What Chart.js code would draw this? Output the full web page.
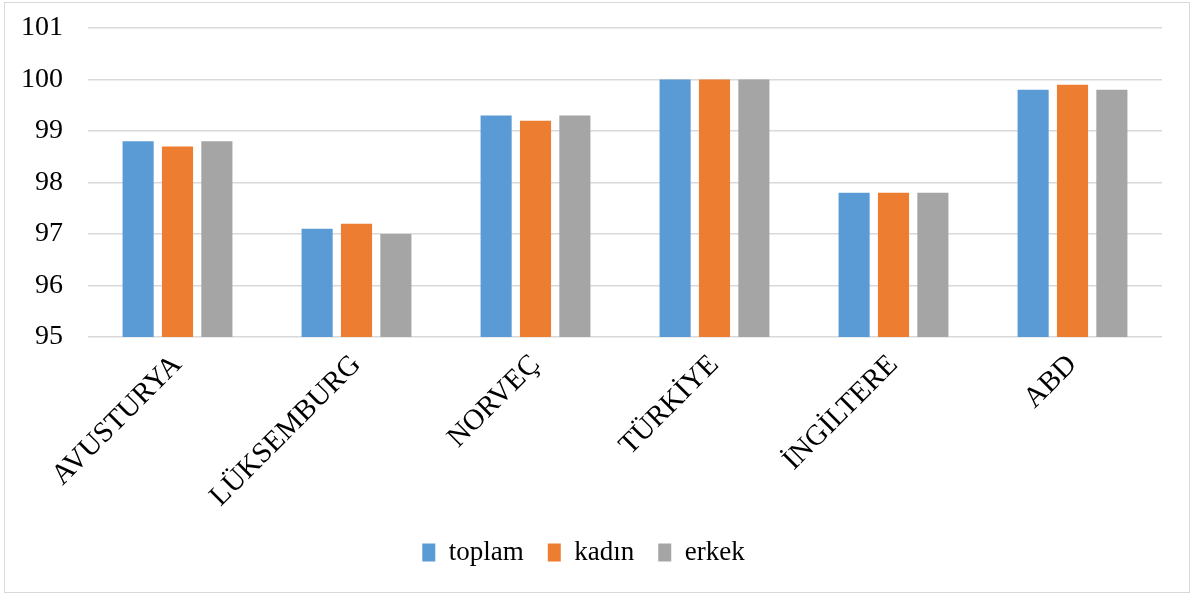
<!DOCTYPE html>
<html>
<head>
<meta charset="utf-8">
<script src="https://cdn.jsdelivr.net/npm/chart.js@4"></script>
<style>
  html, body { margin: 0; padding: 0; background: #fff; }
  #frame {
    position: absolute; left: 4px; top: 2px;
    width: 1184px; height: 589px;
    border: 1px solid #d9d9d9;
  }
</style>
</head>
<body>
<div id="frame"><canvas id="chart"></canvas></div>
<script>
// chart data
const countries = ["AVUSTURYA", "LÜKSEMBURG", "NORVEÇ", "TÜRKİYE", "İNGİLTERE", "ABD"];
const toplam = [98.8, 97.1, 99.3, 100, 97.8, 99.8];
const kadin = [98.7, 97.2, 99.2, 100, 97.8, 99.9];
const erkek = [98.8, 97.0, 99.3, 100, 97.8, 99.8];
const yTicks = [95, 96, 97, 98, 99, 100, 101];

const serif = "'Liberation Serif', 'Times New Roman', serif";
Chart.defaults.font.family = serif;
Chart.defaults.color = "#000";

const ctx = document.getElementById("chart").getContext("2d");
const chart = new Chart(ctx, {
    type: "bar",
    data: {
        labels: countries,
        datasets: [
            { label: "toplam", data: toplam, backgroundColor: "#5B9BD5" },
            { label: "kadın", data: kadin, backgroundColor: "#ED7D31" },
            { label: "erkek", data: erkek, backgroundColor: "#A5A5A5" }
        ]
    },
    options: {
        responsive: true,
        maintainAspectRatio: false,
        animation: false,
        layout: { padding: { top: 25, right: 27, bottom: 16, left: 0 } },
        datasets: {
            bar: { categoryPercentage: 0.66, barPercentage: 0.79 }
        },
        plugins: {
            tooltip: { enabled: false },
            legend: {
                position: "bottom",
                labels: {
                    font: { family: serif, size: 27 },
                    color: "#000",
                    boxWidth: 13,
                    boxHeight: 18,
                    padding: 24
                }
            }
        },
        scales: {
            x: {
                grid: { display: false },
                border: { display: false },
                ticks: {
                    font: { family: serif, size: 29 },
                    color: "#000",
                    minRotation: 45,
                    maxRotation: 45,
                    autoSkip: false
                },
                afterFit: (scale) => { scale.height = 178; }
            },
            y: {
                min: 95,
                max: 101,
                afterBuildTicks: (scale) => { scale.ticks = yTicks.map(v => ({ value: v })); },
                grid: { color: "#d9d9d9", lineWidth: 1.5, tickLength: 25, tickColor: "rgba(0,0,0,0)" },
                border: { display: false },
                ticks: {
                    font: { family: serif, size: 28 },
                    color: "#000",
                    padding: 0
                },
                afterFit: (scale) => { scale.width = 83; }
            }
        }
    }
});
</script>
</body>
</html>
